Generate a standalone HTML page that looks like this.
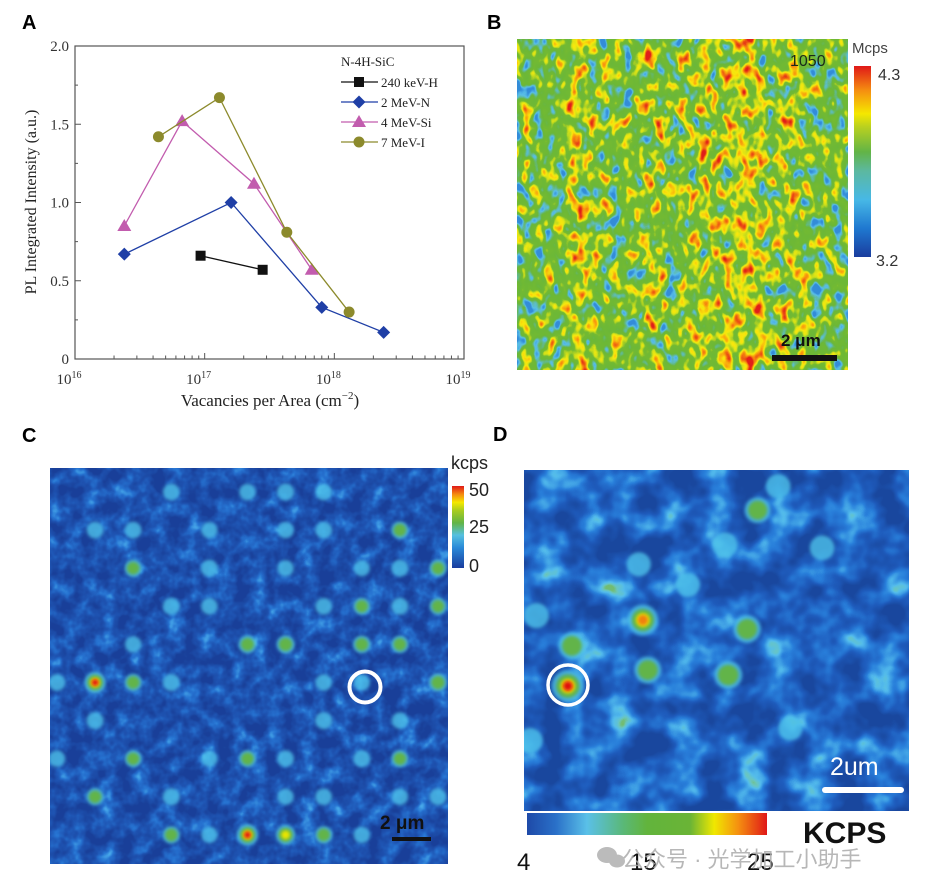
<!DOCTYPE html>
<html><head><meta charset="utf-8">
<style>
html,body{margin:0;padding:0;background:#fff;width:948px;height:895px;overflow:hidden}
svg{display:block}
.pl{font-family:"Liberation Sans",Arial,sans-serif;font-weight:bold;font-size:20px}
.serif{font-family:"Liberation Serif",serif}
.sans{font-family:"Liberation Sans",sans-serif}
</style></head>
<body>
<svg id="fig" width="948" height="895" viewBox="0 0 948 895" xmlns="http://www.w3.org/2000/svg">
<defs>
 <linearGradient id="stripesB" x1="0" y1="0" x2="1" y2="0">
  <stop offset="0" stop-color="#555"/><stop offset="0.12" stop-color="#5a5a5a"/>
  <stop offset="0.18" stop-color="#9a9a9a"/><stop offset="0.25" stop-color="#666"/>
  <stop offset="0.33" stop-color="#5c5c5c"/><stop offset="0.41" stop-color="#8c8c8c"/>
  <stop offset="0.47" stop-color="#5a5a5a"/><stop offset="0.55" stop-color="#909090"/>
  <stop offset="0.62" stop-color="#777"/><stop offset="0.69" stop-color="#b0b0b0"/>
  <stop offset="0.76" stop-color="#707070"/><stop offset="0.83" stop-color="#888"/>
  <stop offset="0.9" stop-color="#5c5c5c"/><stop offset="1" stop-color="#555"/>
 </linearGradient>
 <filter id="fB" x="0" y="0" width="1" height="1" color-interpolation-filters="sRGB">
  <feTurbulence type="fractalNoise" baseFrequency="0.09 0.06" numOctaves="2" seed="7" result="n"/>
  <feColorMatrix in="n" type="matrix" values="1 0 0 0 0 1 0 0 0 0 1 0 0 0 0 0 0 0 0 1" result="g"/>
  <feComposite in="g" in2="SourceGraphic" operator="arithmetic" k1="0" k2="1.6" k3="0.8" k4="-0.7" result="m"/>
  <feComponentTransfer in="m"><feFuncR id="bR" type="table" tableValues="0 1"/><feFuncG id="bG" type="table" tableValues="0 1"/><feFuncB id="bB" type="table" tableValues="0 1"/><feFuncA type="linear" slope="0" intercept="1"/></feComponentTransfer>
 </filter>
 <filter id="fC" x="0" y="0" width="1" height="1" color-interpolation-filters="sRGB">
  <feTurbulence type="fractalNoise" baseFrequency="0.06" numOctaves="3" seed="4" result="n"/>
  <feColorMatrix in="n" type="matrix" values="1.4 0 0 0 -0.45 1.4 0 0 0 -0.45 1.4 0 0 0 -0.45 0 0 0 0 1" result="g"/>
  <feComponentTransfer in="g"><feFuncR id="cR" type="table" tableValues="0 1"/><feFuncG id="cG" type="table" tableValues="0 1"/><feFuncB id="cB" type="table" tableValues="0 1"/><feFuncA type="linear" slope="0" intercept="1"/></feComponentTransfer>
 </filter>
 <filter id="fD" x="0" y="0" width="1" height="1" color-interpolation-filters="sRGB">
  <feTurbulence type="fractalNoise" baseFrequency="0.03" numOctaves="3" seed="11" result="n"/>
  <feColorMatrix in="n" type="matrix" values="1.7 0 0 0 -0.52 1.7 0 0 0 -0.52 1.7 0 0 0 -0.52 0 0 0 0 1" result="g"/>
  <feComponentTransfer in="g"><feFuncR id="dR" type="table" tableValues="0 1"/><feFuncG id="dG" type="table" tableValues="0 1"/><feFuncB id="dB" type="table" tableValues="0 1"/><feFuncA type="linear" slope="0" intercept="1"/></feComponentTransfer>
 </filter>
 <filter id="soft" x="-50%" y="-50%" width="200%" height="200%"><feGaussianBlur stdDeviation="1.6"/></filter>
 <clipPath id="clipC"><rect x="50" y="468" width="398" height="396"/></clipPath>
 <clipPath id="clipD"><rect x="524" y="470" width="385" height="341"/></clipPath>
 <linearGradient id="cbB" x1="0" y1="1" x2="0" y2="0">
  <stop offset="0" stop-color="#1a3d9e"/><stop offset="0.15" stop-color="#1f78d0"/><stop offset="0.3" stop-color="#47b8e6"/>
  <stop offset="0.45" stop-color="#5cb8a0"/><stop offset="0.55" stop-color="#62b446"/><stop offset="0.68" stop-color="#b8d020"/>
  <stop offset="0.75" stop-color="#f5e800"/><stop offset="0.87" stop-color="#f59010"/><stop offset="1" stop-color="#e01818"/>
 </linearGradient>
 <linearGradient id="cbC" x1="0" y1="1" x2="0" y2="0">
  <stop offset="0" stop-color="#1a3d9e"/><stop offset="0.25" stop-color="#2a8ad8"/><stop offset="0.4" stop-color="#55c0e0"/>
  <stop offset="0.55" stop-color="#62b446"/><stop offset="0.7" stop-color="#a8cc20"/><stop offset="0.8" stop-color="#f5e800"/>
  <stop offset="0.9" stop-color="#f58a10"/><stop offset="1" stop-color="#e01818"/>
 </linearGradient>
 <linearGradient id="cbD" x1="0" y1="0" x2="1" y2="0">
  <stop offset="0" stop-color="#1e4aa8"/><stop offset="0.12" stop-color="#2a70c8"/><stop offset="0.25" stop-color="#5ac0e8"/>
  <stop offset="0.4" stop-color="#5ab878"/><stop offset="0.5" stop-color="#62b43c"/><stop offset="0.68" stop-color="#6ab436"/>
  <stop offset="0.78" stop-color="#f0e800"/><stop offset="0.88" stop-color="#f59010"/><stop offset="1" stop-color="#e01818"/>
 </linearGradient>
</defs>

<text class="pl" x="22" y="29">A</text>
<text class="pl" x="487" y="29">B</text>
<text class="pl" x="22" y="442">C</text>
<text class="pl" x="493" y="441">D</text>

<g id="chartA">
 <rect x="75" y="46" width="389" height="313" fill="none" stroke="#555" stroke-width="1.2"/>
 <g id="axA"></g>
 <g id="seriesA"></g>
 <text class="serif" x="270" y="406" font-size="17" text-anchor="middle" fill="#222">Vacancies per Area (cm<tspan dy="-7" font-size="11">−2</tspan><tspan dy="7">)</tspan></text>
 <text class="serif" transform="translate(36,202) rotate(-90)" font-size="16" text-anchor="middle" fill="#222">PL Integrated Intensity (a.u.)</text>
 <g id="legendA">
  <text class="serif" x="341" y="66" font-size="13" fill="#222">N-4H-SiC</text>
 </g>
</g>

<g>
 <rect x="517" y="39" width="331" height="331" fill="url(#stripesB)" filter="url(#fB)"/>
 <text class="sans" x="790" y="66" font-size="16" fill="#1a2a1a">1050</text>
 <rect x="772" y="355" width="65" height="6" fill="#111"/>
 <text class="sans" x="781" y="346" font-size="17" font-weight="bold" fill="#111">2 μm</text>
 <rect x="854" y="66" width="17" height="191" fill="url(#cbB)"/>
 <text class="sans" x="852" y="53" font-size="15" fill="#444">Mcps</text>
 <text class="sans" x="878" y="80" font-size="16" fill="#333">4.3</text>
 <text class="sans" x="876" y="266" font-size="16" fill="#333">3.2</text>
</g>

<g>
 <rect x="50" y="468" width="398" height="396" fill="#2060c0" filter="url(#fC)"/>
 <g id="spotsC" clip-path="url(#clipC)"></g>
 <circle cx="365" cy="687" r="15.5" fill="none" stroke="#fff" stroke-width="4"/>
 <rect x="392" y="837" width="39" height="4" fill="#111"/>
 <text class="sans" x="380" y="829" font-size="19" font-weight="bold" fill="#111">2 μm</text>
 <rect x="452" y="486" width="12" height="82" fill="url(#cbC)"/>
 <text class="sans" x="451" y="469" font-size="18" fill="#222">kcps</text>
 <text class="sans" x="469" y="496" font-size="18" fill="#222">50</text>
 <text class="sans" x="469" y="533" font-size="18" fill="#222">25</text>
 <text class="sans" x="469" y="572" font-size="18" fill="#222">0</text>
</g>

<g>
 <rect x="524" y="470" width="385" height="341" fill="#2060c0" filter="url(#fD)"/>
 <g id="spotsD" clip-path="url(#clipD)"></g>
 <circle cx="568" cy="685" r="20" fill="none" stroke="#fff" stroke-width="3.5"/>
 <rect x="822" y="787" width="82" height="6" rx="3" fill="#fff"/>
 <text class="sans" x="830" y="775" font-size="25" fill="#fff">2um</text>
 <rect x="527" y="813" width="240" height="22" fill="url(#cbD)"/>
 <text class="sans" x="803" y="843" font-size="30" font-weight="bold" fill="#111">KCPS</text>
 <text class="sans" x="517" y="870" font-size="24" fill="#111">4</text>
 <text class="sans" x="630" y="870" font-size="24" fill="#111">15</text>
 <text class="sans" x="747" y="870" font-size="24" fill="#111">25</text>
 <text x="622" y="867" font-size="22" fill="#aaa" fill-opacity="0.85" font-family="'Liberation Sans','Noto Sans CJK SC',sans-serif">公众号 · 光学加工小助手</text>
 <g fill="#bbb"><ellipse cx="607" cy="855" rx="10" ry="8"/><ellipse cx="617" cy="861" rx="8" ry="6.5"/></g>
</g>
</svg>

<script>
// ---------- Panel A data ----------
const seriesNames = ["240 keV-H", "2 MeV-N", "4 MeV-Si", "7 MeV-I"];
const xH = [9.3e16, 2.8e17];
const yH = [0.66, 0.57];
const xN = [2.4e16, 1.6e17, 8.0e17, 2.4e18];
const yN = [0.67, 1.00, 0.33, 0.17];
const xSi = [2.4e16, 6.7e16, 2.4e17, 6.7e17];
const ySi = [0.85, 1.52, 1.12, 0.57];
const xI = [4.4e16, 1.3e17, 4.3e17, 1.3e18];
const yI = [1.42, 1.67, 0.81, 0.30];
const yTicks = [0, 0.5, 1.0, 1.5, 2.0];
const yTickLabels = ["0", "0.5", "1.0", "1.5", "2.0"];
const xDecades = [16, 17, 18, 19];

// ---------- Panel C data (kcps per lattice site, rows x cols) ----------
const cIntensity = [
 [8, 8, 9, 16, 9, 15, 18, 15, 8, 9, 8],
 [9, 16, 16, 8, 13, 9, 14, 16, 9, 22, 10],
 [8, 9, 22, 9, 18, 9, 13, 10, 12, 18, 20],
 [9, 9, 9, 18, 15, 9, 9, 16, 20, 18, 20],
 [8, 9, 14, 9, 9, 26, 27, 8, 24, 22, 9],
 [16, 50, 22, 18, 9, 9, 9, 14, 14, 9, 28],
 [9, 18, 9, 9, 9, 9, 9, 18, 9, 14, 9],
 [14, 9, 20, 9, 12, 20, 16, 9, 18, 20, 9],
 [8, 22, 9, 18, 9, 9, 13, 16, 9, 14, 18],
 [9, 9, 9, 22, 13, 50, 38, 22, 14, 9, 9]
];
// ---------- Panel D data (positions in um, intensity in kcps) ----------
const dXum = [1.07, 2.90, 1.17, 3.02, 5.44, 4.98, 5.70, 4.90, 7.27, 6.50, 0.30, 0.15, 4.00, 8.30, 2.80, 6.20];
const dYum = [5.27, 3.66, 4.29, 4.88, 3.88, 5.00, 0.98, 1.83, 1.90, 6.30, 3.55, 6.60, 2.80, 3.70, 2.30, 0.40];
const dVal = [25, 22, 15, 15, 16, 17, 13, 11, 10, 9, 11, 11, 9, 8, 9, 10];

const NS = "http://www.w3.org/2000/svg";
function mk(tag, attrs, parent) {
  const e = document.createElementNS(NS, tag);
  for (const k in attrs) e.setAttribute(k, attrs[k]);
  parent.appendChild(e);
  return e;
}
const xA = v => 75 + (Math.log10(v) - 16) * 129.67;
const yA = v => 359 - v * 156.5;

const ax = document.getElementById("axA");
yTicks.forEach((t, i) => {
  const l = mk("line", {x1: 75, x2: 81, y1: yA(t), y2: yA(t), stroke: "#555"}, ax);
  
  
  const tx = mk("text", {x: 69, y: yA(t) + 5, "text-anchor": "end", "font-size": 15, fill: "#333", "class": "serif"}, ax);
  tx.textContent = yTickLabels[i];
  
  
  if (i < yTicks.length - 1) {
    const m = mk("line", {x1: 75, x2: 78, y1: yA(t + 0.25), y2: yA(t + 0.25), stroke: "#555"}, ax);
    
    
  }
});
xDecades.forEach((d, i) => {
  const v = Math.pow(10, d);
  const l = mk("line", {x1: xA(v), x2: xA(v), y1: 359, y2: 353, stroke: "#555"}, ax);
  
  
  const tx = mk("text", {x: xA(v) - 6, y: 384, "text-anchor": "middle", "font-size": 15, fill: "#333", "class": "serif"}, ax);
  tx.textContent = "10";
  const sp = mk("tspan", {dy: -6, "font-size": 10}, tx);
  sp.textContent = String(d);
  
  
  if (i < xDecades.length - 1) {
    for (let k = 2; k <= 9; k++) {
      const mv = k * v;
      const m = mk("line", {x1: xA(mv), x2: xA(mv), y1: 359, y2: 355.5, stroke: "#555"}, ax);
      
      
    }
  }
});

const colors = ["#111111", "#1f3fa6", "#c25cae", "#8c8a2c"];
const markers = ["square", "diamond", "triangle", "circle"];
function marker(g, type, cx, cy, color) {
  let e;
  if (type === "square") e = mk("rect", {x: cx - 5, y: cy - 5, width: 10, height: 10, fill: color}, g);
  else if (type === "diamond") e = mk("polygon", {points: `${cx},${cy-6.5} ${cx+6.5},${cy} ${cx},${cy+6.5} ${cx-6.5},${cy}`, fill: color}, g);
  else if (type === "triangle") e = mk("polygon", {points: `${cx},${cy-7} ${cx+7},${cy+5} ${cx-7},${cy+5}`, fill: color}, g);
  else e = mk("circle", {cx: cx, cy: cy, r: 5.5, fill: color}, g);
  return e;
}
const xsAll = [xH, xN, xSi, xI];
const ysAll = [yH, yN, ySi, yI];
const sg = document.getElementById("seriesA");
const lg = document.getElementById("legendA");
seriesNames.forEach((name, s) => {
  const g = mk("g", {}, sg);
  
  
  const pts = xsAll[s].map((x, i) => xA(x) + "," + yA(ysAll[s][i])).join(" ");
  const pl = mk("polyline", {points: pts, fill: "none", stroke: colors[s], "stroke-width": 1.3}, g);
  
  
  xsAll[s].forEach((x, i) => {
    const m = marker(g, markers[s], xA(x), yA(ysAll[s][i]), colors[s]);
    
    
  });
  const ly = 82 + s * 20;
  const le = mk("g", {}, lg);
  
  
  mk("line", {x1: 341, x2: 378, y1: ly, y2: ly, stroke: colors[s], "stroke-width": 1.3}, le);
  marker(le, markers[s], 359, ly, colors[s]);
  const t = mk("text", {x: 381, y: ly + 5, "font-size": 13, fill: "#222", "class": "serif"}, le);
  t.textContent = name;
});

function setTable(ids, stops) {
  const N = 33, ch = [[], [], []];
  for (let i = 0; i < N; i++) {
    const p = i / (N - 1);
    let j = 0;
    while (j < stops.length - 2 && p > stops[j + 1][0]) j++;
    const a = stops[j], b = stops[j + 1];
    const f = Math.min(1, Math.max(0, (p - a[0]) / (b[0] - a[0])));
    for (let c = 0; c < 3; c++) ch[c].push((a[1][c] + (b[1][c] - a[1][c]) * f).toFixed(3));
  }
  ids.forEach((id, c) => document.getElementById(id).setAttribute("tableValues", ch[c].join(" ")));
}
setTable(["bR", "bG", "bB"], [
  [0, [0.20, 0.55, 0.85]], [0.12, [0.35, 0.75, 0.92]], [0.24, [0.40, 0.72, 0.40]],
  [0.3, [0.42, 0.72, 0.22]], [0.5, [0.45, 0.73, 0.20]], [0.6, [0.82, 0.88, 0.10]], [0.68, [0.98, 0.92, 0.05]],
  [0.84, [0.97, 0.55, 0.06]], [1, [0.88, 0.12, 0.10]]]);
setTable(["cR", "cG", "cB"], [
  [0, [0.10, 0.25, 0.60]], [0.3, [0.12, 0.33, 0.70]], [0.55, [0.15, 0.45, 0.82]],
  [0.8, [0.28, 0.66, 0.92]], [1, [0.40, 0.78, 0.90]]]);
setTable(["dR", "dG", "dB"], [
  [0, [0.10, 0.28, 0.62]], [0.3, [0.12, 0.36, 0.74]], [0.55, [0.16, 0.50, 0.86]],
  [0.8, [0.33, 0.74, 0.93]], [0.92, [0.42, 0.78, 0.75]], [1, [0.45, 0.74, 0.45]]]);

function drawSpot(g, cx, cy, f, scale) {
  const layers = [
    [0.0, 9, "#4cc0ea", 0.8],
    [0.38, 6.5, "#62b448", 1],
    [0.62, 4, "#e8e400", 1],
    [0.8, 3, "#f08010", 1],
    [0.9, 2.3, "#e01010", 1]
  ];
  layers.forEach(L => {
    if (f >= L[0] && f > 0.22) {
      const c = mk("circle", {cx: cx, cy: cy, r: L[1] * scale * (0.8 + 0.4 * f), fill: L[2], "fill-opacity": L[3], filter: "url(#soft)"}, g);
      
      
    }
  });
}
const colX = c => 57 + c * 38.1;
const rowY = r => 492 + r * 38.1;
const gC = document.getElementById("spotsC");
cIntensity.forEach((row, r) => row.forEach((v, c) => {
  const g = mk("g", {}, gC);
  
  
  drawSpot(g, colX(c), rowY(r), v / 50, 1);
}));
const dxp = u => 524 + u * 41;
const dyp = u => 470 + u * 41;
const gD = document.getElementById("spotsD");
dVal.forEach((v, i) => {
  const g = mk("g", {}, gD);
  
  
  drawSpot(g, dxp(dXum[i]), dyp(dYum[i]), (v - 4) / 21, 1.5);
});
</script>
</body></html>
